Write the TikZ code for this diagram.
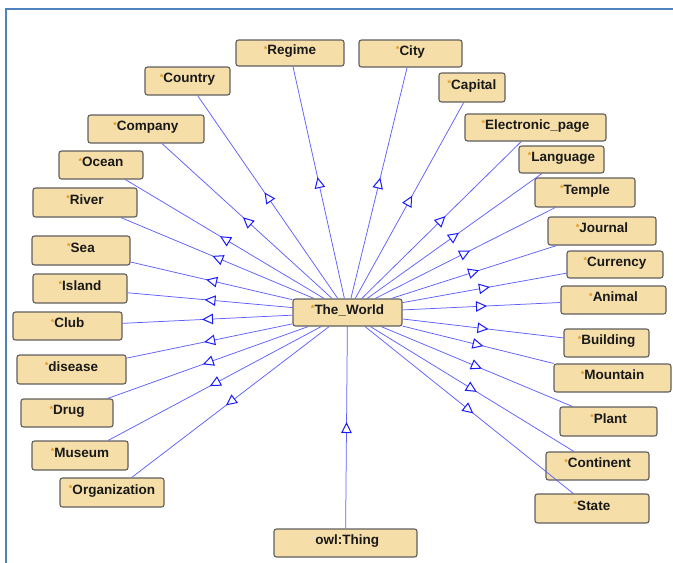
\documentclass[tikz,border=0pt]{standalone}
\usepackage{fontspec}
\setmainfont{Liberation Sans}
\usetikzlibrary{arrows.meta,decorations.markings}
\definecolor{boxfill}{RGB}{245,222,168}
\definecolor{boxline}{RGB}{95,95,95}
\definecolor{edgeblue}{RGB}{95,95,255}
\definecolor{tipblue}{RGB}{25,25,255}
\definecolor{framecol}{RGB}{79,129,189}
\definecolor{starcol}{RGB}{225,150,30}
\newcommand{\orstar}{{\color{starcol}\raisebox{2.5pt}{\fontsize{9}{9}\selectfont\bfseries *}}}
\newcommand{\faintstar}{{\color{black!12}\raisebox{2.5pt}{\fontsize{9}{9}\selectfont *}}}
\begin{document}
\begin{tikzpicture}[x=1pt,y=-1pt,
 cls/.style={draw=boxline, fill=boxfill, line width=1.1pt, rounded corners=2.5pt, inner sep=0pt,
   text height=9.5pt, text depth=6.5pt, font=\fontsize{13.5}{14}\selectfont\bfseries, text=black!90},
 isa/.style={draw=edgeblue, line width=0.75pt, postaction={decorate},
   decoration={markings, mark=at position 0.5 with {\pgftransformxshift{5.5pt}\arrow{Triangle[length=11pt,width=10.5pt,fill=white,color=tipblue,line width=1pt]}}}}
]
\useasboundingbox (0,0) rectangle (673,563);
\draw[framecol, line width=2pt] (6,563) -- (6,9) -- (673,9);

\node[cls, minimum width=108pt, minimum height=26pt] (regime) at (290,53) {\orstar Regime};
\node[cls, minimum width=103pt, minimum height=27pt] (city) at (410.5,53.5) {\orstar City};
\node[cls, minimum width=85pt, minimum height=28pt] (country) at (187.5,81) {\orstar Country};
\node[cls, minimum width=66pt, minimum height=29pt] (capital) at (472,87.5) {\orstar Capital};
\node[cls, minimum width=116pt, minimum height=28pt] (company) at (146,129) {\orstar Company};
\node[cls, minimum width=141pt, minimum height=27pt] (epage) at (535.5,127.5) {\orstar Electronic\_page};
\node[cls, minimum width=84pt, minimum height=28pt] (ocean) at (101,165) {\orstar Ocean};
\node[cls, minimum width=85pt, minimum height=27pt] (language) at (561.5,159.5) {\orstar Language};
\node[cls, minimum width=100pt, minimum height=29pt] (temple) at (585,192.5) {\orstar Temple};
\node[cls, minimum width=104pt, minimum height=29pt] (river) at (85,202.5) {\orstar River};
\node[cls, minimum width=108pt, minimum height=28pt] (journal) at (602,231) {\orstar Journal};
\node[cls, minimum width=98pt, minimum height=29pt] (sea) at (81,250.5) {\orstar Sea};
\node[cls, minimum width=96pt, minimum height=27pt] (currency) at (615,264.5) {\orstar Currency};
\node[cls, minimum width=94pt, minimum height=29pt] (island) at (80,288.5) {\orstar Island};
\node[cls, minimum width=105pt, minimum height=28pt] (animal) at (613.5,300) {\orstar Animal};
\node[cls, minimum width=109pt, minimum height=28pt] (club) at (67.5,326) {\orstar Club};
\node[cls, minimum width=109pt, minimum height=27pt] (world) at (347.5,312.5) {\orstar The\_World};
\node[cls, minimum width=85pt, minimum height=28pt] (building) at (606.5,343) {\orstar Building};
\node[cls, minimum width=109pt, minimum height=29pt] (disease) at (71.5,369.5) {\orstar disease};
\node[cls, minimum width=117pt, minimum height=28pt] (mountain) at (612.5,378) {\orstar Mountain};
\node[cls, minimum width=92pt, minimum height=28pt] (drug) at (67,413) {\orstar Drug};
\node[cls, minimum width=97pt, minimum height=29pt] (plant) at (608.5,421.5) {\orstar Plant};
\node[cls, minimum width=96pt, minimum height=29pt] (museum) at (80,455.5) {\orstar Museum};
\node[cls, minimum width=103pt, minimum height=28pt] (continent) at (597.5,466) {\orstar Continent};
\node[cls, minimum width=104pt, minimum height=29pt] (organization) at (112,492.5) {\orstar Organization};
\node[cls, minimum width=114pt, minimum height=29pt] (state) at (592,508.5) {\orstar State};
\node[cls, minimum width=143pt, minimum height=28pt] (thing) at (345.5,543) {\faintstar owl:Thing};

\foreach \n in {regime,city,country,capital,company,epage,ocean,language,temple,river,journal,sea,currency,island,animal,club,building,disease,mountain,drug,plant,museum,continent,organization,state}
  \draw[isa] (world) -- (\n);
\draw[isa] (thing) -- (world);
\end{tikzpicture}
\end{document}
